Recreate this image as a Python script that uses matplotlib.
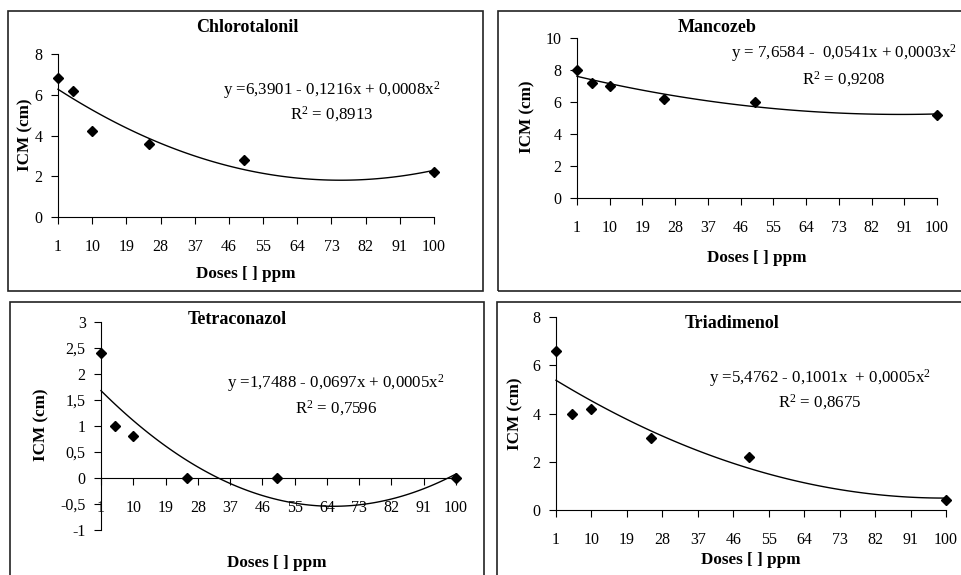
"""Four dose-response panels (ICM vs dose) with quadratic trendlines."""
import matplotlib
import matplotlib.pyplot as plt
import numpy as np
from matplotlib.patches import Rectangle

matplotlib.use("Agg")

plt.rcParams["font.family"] = ["Liberation Serif", "DejaVu Serif"]
plt.rcParams["mathtext.fontset"] = "custom"
plt.rcParams["mathtext.rm"] = "Liberation Serif"
plt.rcParams["mathtext.it"] = "Liberation Serif:italic"

W, H = 962, 575

doses = [1, 5, 10, 25, 50, 100]
x_ticks = [1, 10, 19, 28, 37, 46, 55, 64, 73, 82, 91, 100]

chloro_icm = [6.8, 6.2, 4.2, 3.6, 2.8, 2.2]
mancozeb_icm = [8.0, 7.2, 7.0, 6.2, 6.0, 5.2]
tetra_icm = [2.4, 1.0, 0.8, 0.0, 0.0, 0.0]
triad_icm = [6.6, 4.0, 4.2, 3.0, 2.2, 0.4]

chloro_eq = ["y =6,3901 - 0,1216x + 0,0008$\\mathrm{x}^2$", "$\\mathrm{R}^2$ = 0,8913"]
mancozeb_eq = ["y = 7,6584 -  0,0541x + 0,0003$\\mathrm{x}^2$", "$\\mathrm{R}^2$ = 0,9208"]
tetra_eq = ["y =1,7488 - 0,0697x + 0,0005$\\mathrm{x}^2$", "$\\mathrm{R}^2$ = 0,7596"]
triad_eq = ["y =5,4762 - 0,1001x  + 0,0005$\\mathrm{x}^2$", "$\\mathrm{R}^2$ = 0,8675"]

chloro_yticks = [0, 2, 4, 6, 8]
mancozeb_yticks = [0, 2, 4, 6, 8, 10]
tetra_yticks = [-1, -0.5, 0, 0.5, 1, 1.5, 2, 2.5, 3]
tetra_ylabels = ["-1", "-0,5", "0", "0,5", "1", "1,5", "2", "2,5", "3"]
triad_yticks = [0, 2, 4, 6, 8]


def fx(x):
    return x / W


def fy(y):
    return 1 - y / H


fig = plt.figure(figsize=(W / 100, H / 100), dpi=100)

# panel frames (left, top, right, bottom in pixels)
for l, t, r, b in [(8, 11, 483, 291), (498, 11, 975, 291),
                   (10, 302, 484, 590), (497, 302, 975, 590)]:
    fig.patches.append(Rectangle((fx(l), fy(b)), fx(r - l), (b - t) / H,
                                 transform=fig.transFigure, fill=False,
                                 edgecolor="#222222", linewidth=1.2))


def draw_panel(box, values, yticks, ylim, title, eq, pos, yticklabels=None, zero_axis=False):
    l, t, r, b = box
    ax = fig.add_axes([fx(l), fy(b), fx(r - l), (b - t) / H])
    x = np.array(doses, dtype=float)
    coef = np.polyfit(x, values, 2)
    xs = np.arange(1, 101)
    ax.plot(xs, np.polyval(coef, xs), color="black", linewidth=1.0, clip_on=False)
    ax.plot(doses, values, linestyle="none", marker="D", markersize=5.5,
            color="black", clip_on=False, zorder=5)
    ax.set_xlim(1, 100)
    ax.set_ylim(*ylim)
    ax.set_xticks(x_ticks)
    ax.set_yticks(yticks)
    if yticklabels:
        ax.set_yticklabels(yticklabels)
    for side in ("top", "right"):
        ax.spines[side].set_visible(False)
    if zero_axis:
        ax.spines["bottom"].set_position(("data", 0))
    ax.tick_params(axis="x", length=5, pad=11, labelsize=11.5)
    ax.tick_params(axis="y", length=5, pad=6, labelsize=11.5)
    ax.patch.set_alpha(0)

    (tx, ty), (ex, ey1, ey2), (xlx, xly), (ylx, yly) = pos
    fig.text(fx(tx), fy(ty), title, ha="center", va="center", fontsize=13, fontweight="bold")
    fig.text(fx(ex), fy(ey1), eq[0], ha="center", va="center", fontsize=12.2)
    fig.text(fx(ex), fy(ey2), eq[1], ha="center", va="center", fontsize=12.2)
    fig.text(fx(xlx), fy(xly), "Doses [ ] ppm", ha="center", va="center",
             fontsize=12.3, fontweight="bold")
    fig.text(fx(ylx), fy(yly), "ICM (cm)", ha="center", va="center", rotation=90,
             fontsize=12.3, fontweight="bold")
    return ax


draw_panel((58, 54, 434, 217), chloro_icm, chloro_yticks, (0, 8), "Chlorotalonil", chloro_eq,
           [(247, 27), (332, 90, 114), (246, 274), (25, 135)])
draw_panel((577, 38, 937, 198), mancozeb_icm, mancozeb_yticks, (0, 10), "Mancozeb", mancozeb_eq,
           [(717, 27), (844, 53, 79), (757, 258), (527, 117)])
draw_panel((101, 322, 456, 530), tetra_icm, tetra_yticks, (-1, 3), "Tetraconazol", tetra_eq,
           [(237, 319), (336, 383, 408), (277, 563), (41, 425)],
           yticklabels=tetra_ylabels, zero_axis=True)
draw_panel((556, 317, 946, 510), triad_icm, triad_yticks, (0, 8), "Triadimenol", triad_eq,
           [(732, 323), (820, 378, 402), (751, 560), (515, 414)])

fig.savefig("out.png", dpi=100)
